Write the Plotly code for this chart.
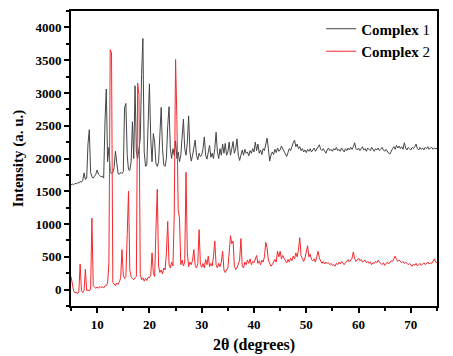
import plotly.graph_objects as go

# 2-theta sampling positions (degrees), 0.25 deg step from 5 to 75
two_theta = [round(5 + 0.25 * i, 2) for i in range(281)]

# Complex 1 intensity (a. u.)
complex1 = [
    1595, 1610, 1600, 1620, 1615, 1630, 1625, 1650, 1640, 1665, 1780, 1680, 1700, 2220, 2440, 1790, 1720, 1700, 1730, 1760,
    1825, 1760, 1740, 1720, 1730, 1700, 2570, 3060, 1950, 2170, 1800, 1770, 1790, 1860, 2110, 1880, 1770, 1760, 1790, 1770,
    1800, 2780, 2840, 2050, 1830, 1820, 1950, 2560, 2000, 3110, 2100, 2000, 2200, 2300, 3280, 3830, 2100, 1880, 1900, 2600,
    3140, 2300, 1950, 2380, 2250, 1920, 1880, 1950, 2350, 2780, 2150, 1900, 1880, 2000, 2500, 2790, 2150, 2000, 2150, 2050,
    2270, 2000, 2100, 1950, 2050, 2300, 2600, 2150, 2050, 2250, 2650, 2100, 1960, 2050, 2150, 2280, 2050, 1980, 2080, 2030,
    2050, 2150, 2330, 2050, 1990, 2100, 2200, 2020, 2080, 2000, 2150, 2400, 2100, 2000, 2150, 2050, 2220, 2080, 2230, 2050,
    2100, 2250, 2050, 2150, 2260, 2080, 2150, 2300, 2050, 1970, 2060, 2130, 2050, 2140, 2080, 2100, 2040, 2120, 2080, 2150,
    2100, 2250, 2120, 2220, 2080, 2130, 2060, 2150, 2120, 2200, 2310, 2150, 1960, 2050, 2100, 2060, 2140, 2090, 2160, 2110,
    2130, 2190, 2140, 2090, 2070, 2030, 2100, 2150, 2120, 2200, 2240, 2280, 2180, 2220, 2150, 2180, 2120, 2150, 2100, 2130,
    2090, 2140, 2110, 2150, 2100, 2130, 2160, 2110, 2150, 2170, 2210, 2140, 2120, 2150, 2110, 2080, 2130, 2160, 2120, 2140,
    2110, 2150, 2130, 2170, 2120, 2140, 2110, 2160, 2130, 2100, 2150, 2120, 2160, 2130, 2170, 2140, 2180, 2240, 2150, 2130,
    2160, 2120, 2150, 2180, 2130, 2150, 2110, 2160, 2140, 2120, 2170, 2140, 2110, 2150, 2130, 2160, 2120, 2140, 2170, 2130,
    2110, 2140, 2100, 2080, 2070, 2120, 2150, 2180, 2140, 2200, 2160, 2190, 2150, 2180, 2140, 2240, 2160, 2130, 2170, 2150,
    2130, 2170, 2150, 2180, 2220, 2150, 2130, 2170, 2140, 2160, 2130, 2170, 2150, 2180, 2140, 2160, 2170, 2140, 2160, 2150,
    2150,
]

# Complex 2 intensity (a. u.)
complex2 = [
    200, 60, -20, -50, -40, -65, -30, 390, -20, -45, -10, 310, -15, -5, -20, 10, 1090, 60, 40, 20,
    40, 20, 50, 30, 45, 25, 55, 60, 100, 410, 3660, 3610, 110, 80, 60, 100, 80, 120, 180, 610,
    220, 170, 200, 840, 1500, 300, 200, 170, 150, 180, 200, 3150, 2970, 230, 150, 180, 130, 170, 140, 190,
    180, 220, 560, 250, 200, 920, 1530, 360, 260, 300, 240, 330, 300, 560, 1040, 380, 330, 420, 360, 1150,
    3510, 2600, 1220, 1090, 380, 450, 360, 420, 1790, 560, 350, 420, 380, 450, 610, 370, 330, 400, 915, 380,
    340, 400, 330, 460, 380, 510, 350, 400, 360, 500, 740, 380, 330, 400, 350, 420, 585, 300, 260, 300,
    330, 560, 823, 700, 740, 356, 305, 330, 380, 450, 778, 356, 330, 420, 380, 450, 400, 470, 380, 430,
    410, 480, 520, 400, 440, 380, 450, 420, 500, 722, 640, 450, 407, 356, 380, 430, 460, 420, 585, 500,
    585, 470, 520, 480, 430, 407, 460, 420, 480, 440, 510, 470, 560, 500, 600, 792, 520, 457, 430, 480,
    560, 670, 500, 540, 460, 440, 470, 420, 500, 585, 480, 430, 400, 430, 390, 420, 400, 410, 380, 400,
    370, 380, 356, 400, 380, 420, 390, 430, 400, 380, 410, 440, 457, 420, 450, 480, 575, 470, 430, 450,
    480, 440, 460, 420, 440, 450, 410, 430, 400, 420, 380, 410, 400, 430, 410, 450, 420, 400, 380, 410,
    370, 400, 420, 390, 410, 440, 430, 480, 510, 460, 430, 450, 420, 410, 430, 400, 420, 390, 380, 400,
    370, 356, 390, 370, 400, 360, 380, 400, 370, 390, 410, 380, 400, 420, 390, 410, 400, 430, 470, 420,
    410,
]

series_names = ["<b>Complex</b> 1", "<b>Complex</b> 2"]
series_colors = ["#454545", "#f5282d"]

x_ticks = [10, 20, 30, 40, 50, 60, 70]
y_ticks = [0, 500, 1000, 1500, 2000, 2500, 3000, 3500, 4000]

FONT = "Liberation Serif"

fig = go.Figure()
for name, vals, col in zip(series_names, [complex1, complex2], series_colors):
    fig.add_trace(go.Scatter(x=two_theta, y=vals, mode="lines", name=name,
                             line=dict(color=col, width=1)))

axis_common = dict(
    showline=True, mirror=True, linecolor="black", linewidth=2,
    ticks="outside", ticklen=5, tickwidth=1.5, tickcolor="black",
    showgrid=False, zeroline=False, automargin=False,
    tickfont=dict(family=FONT, size=13, color="black", weight="bold"),
)

fig.update_xaxes(
    range=[5, 75], tickvals=x_ticks,
    minor=dict(ticks="outside", ticklen=3, tickwidth=1.5, tickcolor="black", dtick=5, tick0=0),
    title=dict(text="<b>2θ (degrees)</b>", font=dict(family=FONT, size=16, color="black"), standoff=8),
    **axis_common,
)
fig.update_yaxes(
    range=[-250, 4250], tickvals=y_ticks,
    minor=dict(ticks="outside", ticklen=3, tickwidth=1.5, tickcolor="black", dtick=250, tick0=0),
    title=dict(text="<b>Intensity (a. u.)</b>", font=dict(family=FONT, size=15, color="black"), standoff=8),
    **axis_common,
)

fig.update_layout(
    width=453, height=356,
    margin=dict(l=71, r=16, t=11, b=50),
    paper_bgcolor="white", plot_bgcolor="white",
    font=dict(family=FONT, color="black"),
    showlegend=True,
    legend=dict(x=0.995, xanchor="right", y=0.995, yanchor="top",
                bgcolor="rgba(0,0,0,0)", font=dict(family=FONT, size=15, color="black"),
                tracegroupgap=0, itemwidth=30),
)

fig.write_html("out.html", config={"displayModeBar": False},
               post_script="document.body.style.margin='0';")
